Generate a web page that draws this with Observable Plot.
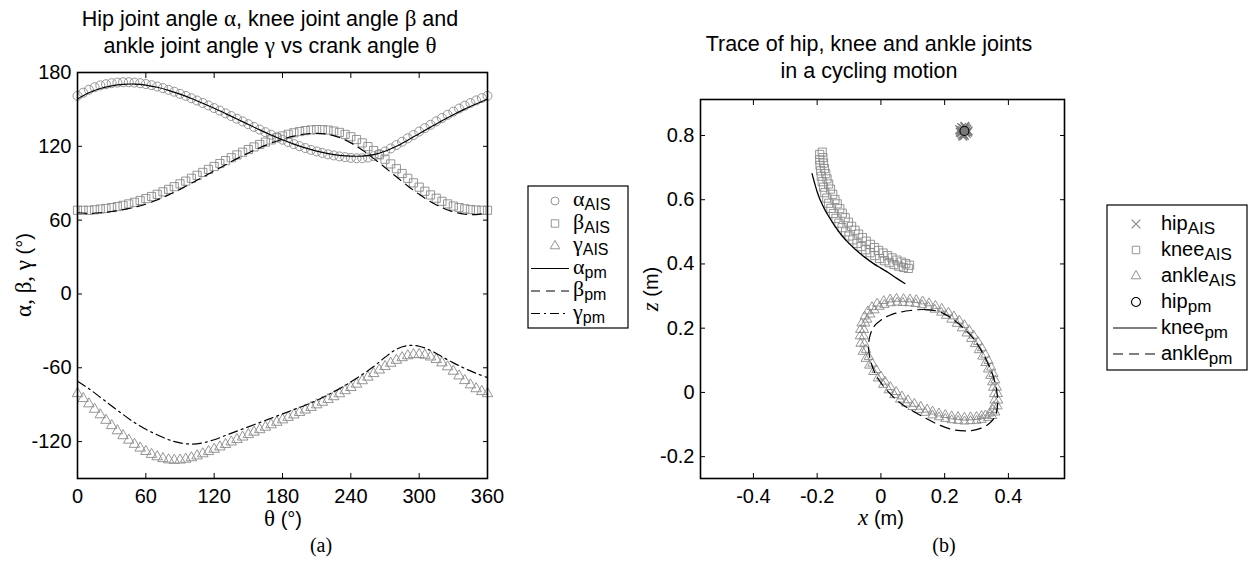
<!DOCTYPE html>
<html><head><meta charset="utf-8">
<script src="https://cdn.jsdelivr.net/npm/d3@7"></script>
<script src="https://cdn.jsdelivr.net/npm/@observablehq/plot@0.6"></script>
<style>
html,body{margin:0;padding:0;background:#fff;}
#wrap{position:relative;width:1259px;height:563px;overflow:hidden;background:#fff;}
#wrap > svg{position:absolute;top:0;overflow:visible;}
text{white-space:pre;}
</style></head><body><div id="wrap"></div>
<script>
// ---------- Panel (a): joint angles vs crank angle ----------
const theta5 = [0,5,10,15,20,25,30,35,40,45,50,55,60,65,70,75,80,85,90,95,100,105,110,115,120,125,130,135,140,145,150,155,160,165,170,175,180,185,190,195,200,205,210,215,220,225,230,235,240,245,250,255,260,265,270,275,280,285,290,295,300,305,310,315,320,325,330,335,340,345,350,355,360];
const alphaAIS = [161,163.6,166,168,169.5,170.5,171.3,171.8,172.1,172.1,171.8,171.3,170.6,169.7,168.6,167.3,165.9,164.4,162.7,161,159.1,157.2,155.2,153.2,151.1,149,146.8,144.6,142.4,140.2,138,135.8,133.6,131.5,129.4,127.4,125.4,123.5,121.8,120.1,118.6,117.1,115.8,114.6,113.5,112.6,111.8,111.2,110.6,110.3,110.3,110.9,112,113.7,115.8,118.3,121,123.7,126.5,129.2,132,134.8,137.5,140.3,143,145.6,148.2,150.7,153,155.2,157.3,159.2,161];
const betaAIS = [68,68,68,68.4,69,69.5,70.2,71,72,73.2,74.5,76,77.5,79.2,81,83,85,87.2,89.5,91.7,94,96.4,98.8,101.2,103.6,106,108.4,110.7,113,115.2,117.4,119.5,121.5,123.4,125.2,126.9,128.4,129.8,131,132,132.8,133.3,133.6,133.6,133.2,132.4,131.3,129.7,127.8,125.5,122.8,119.8,116.6,113.1,109.5,105.7,101.8,97.9,94,90.3,86.8,83.5,80.5,77.8,75.3,73.2,71.5,70.2,69.2,68.6,68.2,68,68];
const gammaAIS = [-81,-85,-89.3,-93.7,-98.2,-102.7,-107,-111.2,-115.2,-118.8,-122.2,-125.3,-128,-130.4,-132.3,-133.8,-134.8,-135.2,-135,-134.3,-133.1,-131.6,-129.9,-128.1,-126.2,-124.3,-122.3,-120.3,-118.3,-116.3,-114.3,-112.3,-110.3,-108.3,-106.3,-104.3,-102.3,-100.3,-98.3,-96.3,-94.3,-92.2,-90.1,-88,-85.8,-83.5,-81.1,-78.6,-76,-73.3,-70.5,-67.6,-64.7,-61.8,-59,-56.3,-53.9,-51.8,-50.2,-49.3,-49.2,-49.8,-51.2,-53.3,-56,-59.2,-62.8,-66.6,-70.4,-73.9,-77,-79.3,-81];
const theta10 = [0,10,20,30,40,50,60,70,80,90,100,110,120,130,140,150,160,170,180,190,200,210,220,230,240,250,260,270,280,290,300,310,320,330,340,350,360];
const alphaPm = [158.5,163.5,167,169.2,170.4,170.6,169.8,168,165.5,162.4,158.9,155,150.9,146.6,142.2,137.8,133.4,129.2,125.3,121.8,118.7,116.1,114.1,112.7,112,112.1,113.3,116,120,125,130.3,135.6,140.8,145.7,150.2,154.4,158.5];
const betaPm = [66,65.5,66,67,68.5,70.5,73,76.5,80.5,85,90,95,100,105,110,114.6,118.8,122.6,125.8,128.3,130,130.6,129.8,127.2,122.8,117,110.2,102.8,95.2,87.8,81,75,70.2,66.8,64.8,64.5,66];
const gammaPm = [-71,-77,-84,-91,-98,-104.5,-110,-114.5,-118.5,-121,-122,-121,-118.5,-115,-111.5,-108,-104.5,-101,-97.5,-94,-90.5,-86.5,-82,-77,-71.5,-65.5,-59,-51.5,-45,-42,-42.5,-46,-51,-56,-60.5,-64.5,-68];
const xTicksA = [0,60,120,180,240,300,360];
const yTicksA = [-120,-60,0,60,120,180];

// ---------- Panel (b): joint traces (m) ----------
const hipAisX = [0.252,0.258,0.264,0.270,0.268,0.262,0.255,0.249,0.247,0.256,0.266,0.272,0.260,0.253,0.267,0.259,0.250,0.263,0.274,0.257];
const hipAisZ = [0.808,0.822,0.826,0.818,0.806,0.800,0.802,0.810,0.818,0.815,0.812,0.810,0.820,0.825,0.822,0.805,0.816,0.829,0.814,0.798];
const hipPmX = [0.262];
const hipPmZ = [0.814];
const kneeAisX = [-0.184,-0.182,-0.180,-0.177,-0.173,-0.169,-0.164,-0.158,-0.151,-0.144,-0.137,-0.129,-0.121,-0.112,-0.102,-0.092,-0.081,-0.070,-0.058,-0.046,-0.033,-0.020,-0.007,0.007,0.021,0.035,0.050,0.064,0.078,0.090,
  0.086,0.071,0.056,0.041,0.026,0.011,-0.004,-0.019,-0.034,-0.048,-0.062,-0.075,-0.088,-0.100,-0.111,-0.122,-0.132,-0.141,-0.149,-0.157,-0.164,-0.170,-0.176,-0.180,-0.184,-0.187,-0.189,-0.191,-0.192,-0.192];
const kneeAisZ = [0.748,0.731,0.714,0.697,0.681,0.665,0.649,0.633,0.617,0.601,0.587,0.572,0.558,0.544,0.530,0.517,0.505,0.493,0.482,0.471,0.461,0.451,0.442,0.434,0.426,0.419,0.412,0.406,0.401,0.396,
  0.386,0.389,0.393,0.398,0.404,0.410,0.417,0.426,0.435,0.444,0.454,0.464,0.475,0.487,0.500,0.513,0.527,0.542,0.557,0.573,0.589,0.605,0.622,0.639,0.656,0.673,0.690,0.707,0.724,0.741];
const ankleAisX = [0.071,0.091,0.111,0.131,0.151,0.171,0.191,0.212,0.229,0.246,0.262,0.277,0.291,0.305,0.317,0.328,0.338,0.346,0.353,0.359,0.364,0.367,0.368,0.366,0.359,0.349,0.336,0.316,0.300,0.281,0.262,0.242,0.222,0.202,0.182,0.162,0.139,0.119,0.099,0.079,0.060,0.042,0.024,0.007,-0.010,-0.024,-0.037,-0.048,-0.057,-0.064,-0.066,-0.065,-0.061,-0.051,-0.041,-0.028,-0.012,0.009,0.029,0.049,
  0.069,0.089,0.109,0.129,0.149,0.169,0.189,0.204,0.221,0.238,0.254,0.269,0.283,0.295,0.307,0.318,0.328,0.336,0.343,0.349,0.352,0.355,0.356,0.354,0.351,0.341,0.328,0.316,0.300,0.281,0.262,0.242,0.222,0.202,0.182,0.162,0.145,0.125,0.105,0.085,0.066,0.048,0.030,0.013,0.000,-0.014,-0.027,-0.038,-0.047,-0.052,-0.054,-0.053,-0.049,-0.043,-0.033,-0.020,-0.004,0.011,0.031,0.051];
const ankleAisZ = [0.291,0.290,0.288,0.284,0.278,0.270,0.261,0.249,0.237,0.224,0.210,0.194,0.177,0.157,0.138,0.118,0.098,0.078,0.058,0.038,0.015,-0.005,-0.025,-0.043,-0.062,-0.073,-0.079,-0.085,-0.088,-0.089,-0.090,-0.088,-0.086,-0.082,-0.077,-0.071,-0.063,-0.054,-0.045,-0.034,-0.022,-0.008,0.007,0.024,0.044,0.064,0.084,0.105,0.127,0.152,0.175,0.195,0.215,0.237,0.253,0.266,0.277,0.285,0.290,0.292,
  0.279,0.278,0.276,0.272,0.266,0.258,0.249,0.239,0.227,0.214,0.200,0.184,0.167,0.151,0.132,0.112,0.092,0.072,0.052,0.032,0.015,-0.005,-0.025,-0.043,-0.054,-0.065,-0.071,-0.073,-0.076,-0.077,-0.078,-0.076,-0.074,-0.070,-0.065,-0.059,-0.053,-0.044,-0.035,-0.024,-0.012,0.002,0.017,0.034,0.050,0.070,0.090,0.111,0.133,0.152,0.175,0.195,0.215,0.227,0.243,0.256,0.267,0.273,0.278,0.280];
const kneePmX = [-0.216,-0.209,-0.200,-0.190,-0.178,-0.165,-0.147,-0.127,-0.104,-0.080,-0.052,-0.023,0.000,0.025,0.050,0.075];
const kneePmZ = [0.681,0.655,0.625,0.598,0.573,0.550,0.522,0.494,0.468,0.445,0.422,0.401,0.387,0.372,0.355,0.339];
const anklePmX = [0.093,0.140,0.187,0.230,0.265,0.290,0.315,0.337,0.354,0.364,0.366,0.358,0.336,0.300,0.262,0.222,0.180,0.140,0.100,0.060,0.022,-0.012,-0.030,-0.038,-0.036,-0.022,0.004,0.035,0.061];
const anklePmZ = [0.255,0.258,0.250,0.225,0.195,0.168,0.130,0.088,0.045,0.000,-0.040,-0.075,-0.100,-0.116,-0.120,-0.115,-0.100,-0.080,-0.058,-0.032,0.003,0.048,0.090,0.130,0.170,0.205,0.228,0.243,0.250];
const xTicksB = [-0.4,-0.2,0,0.2,0.4];
const yTicksB = [-0.2,0,0.2,0.4,0.6,0.8];

const SANS = "'Liberation Sans', Arial, Helvetica, sans-serif";
const SERIF = "'Liberation Serif', 'Times New Roman', serif";
const GRAY = "#8a8a8a";
const wrap = document.getElementById("wrap");

function axes(xt, yt) {
  return [
    Plot.axisX(xt, {anchor: "bottom", tickSize: -5, tickPadding: 15, tickFormat: d => String(d), label: null}),
    Plot.axisX(xt, {anchor: "top", tickSize: -5, tickFormat: () => "", label: null}),
    Plot.axisY(yt, {anchor: "left", tickSize: -5, tickPadding: 11, tickFormat: d => String(d), label: null}),
    Plot.axisY(yt, {anchor: "right", tickSize: -5, tickFormat: () => "", label: null}),
    Plot.frame({stroke: "#000", strokeWidth: 1.6})
  ];
}
const plotStyle = {fontFamily: SANS, fontSize: "20px", color: "#000", background: "transparent", overflow: "visible"};

const chartA = Plot.plot({
  width: 500, height: 530,
  marginLeft: 77, marginRight: 13, marginTop: 72, marginBottom: 52,
  x: {domain: [0, 360]},
  y: {domain: [-150, 180]},
  style: plotStyle,
  marks: [
    Plot.dot(alphaAIS, {x: (d, i) => theta5[i], y: d => d, symbol: "circle", r: 4.5, stroke: GRAY, strokeWidth: 0.9, fill: "none"}),
    Plot.dot(betaAIS, {x: (d, i) => theta5[i], y: d => d, symbol: "square", r: 4.6, stroke: GRAY, strokeWidth: 0.9, fill: "none"}),
    Plot.dot(gammaAIS, {x: (d, i) => theta5[i], y: d => d, symbol: "triangle", r: 3.9, stroke: GRAY, strokeWidth: 0.9, fill: "none"}),
    Plot.line(alphaPm, {x: (d, i) => theta10[i], y: d => d, curve: "catmull-rom", stroke: "#000", strokeWidth: 1.2}),
    Plot.line(betaPm, {x: (d, i) => theta10[i], y: d => d, curve: "catmull-rom", stroke: "#000", strokeWidth: 1.2, strokeDasharray: "9,6"}),
    Plot.line(gammaPm, {x: (d, i) => theta10[i], y: d => d, curve: "catmull-rom", stroke: "#000", strokeWidth: 1.2, strokeDasharray: "9,4,2,4"}),
    ...axes(xTicksA, yTicksA)
  ]
});
chartA.style.left = "0px";
wrap.appendChild(chartA);

const chartB = Plot.plot({
  width: 450, height: 530,
  marginLeft: 70, marginRight: 16, marginTop: 99, marginBottom: 52,
  x: {domain: [-0.566, 0.576]},
  y: {domain: [-0.268, 0.912]},
  style: plotStyle,
  marks: [
    Plot.dot(hipAisX, {x: d => d, y: (d, i) => hipAisZ[i], symbol: "times", r: 4, stroke: "#7a7a7a", strokeWidth: 1.3}),
    Plot.dot(kneeAisX, {x: d => d, y: (d, i) => kneeAisZ[i], symbol: "square", r: 4.6, stroke: GRAY, strokeWidth: 0.9, fill: "none"}),
    Plot.dot(ankleAisX, {x: d => d, y: (d, i) => ankleAisZ[i], symbol: "triangle", r: 3.4, stroke: GRAY, strokeWidth: 0.9, fill: "none"}),
    Plot.dot(hipPmX, {x: d => d, y: (d, i) => hipPmZ[i], symbol: "circle", r: 4.5, stroke: "#000", strokeWidth: 1.1, fill: "none"}),
    Plot.line(kneePmX, {x: d => d, y: (d, i) => kneePmZ[i], curve: "catmull-rom", stroke: "#000", strokeWidth: 1.3}),
    Plot.line(anklePmX, {x: d => d, y: (d, i) => anklePmZ[i], curve: "catmull-rom-closed", stroke: "#000", strokeWidth: 1.2, strokeDasharray: "10,6"}),
    ...axes(xTicksB, yTicksB)
  ]
});
chartB.style.left = "630px";
wrap.appendChild(chartB);

// ---------- Text overlay: titles, axis labels, captions, legends ----------
const ov = d3.select(wrap).append("svg").attr("width", 1259).attr("height", 563).style("left", "0px");

function rich(x, y, parts, anchor = "start", rotate = 0) {
  const t = ov.append("text").attr("x", x).attr("y", y).attr("text-anchor", anchor).attr("fill", "#000");
  if (rotate) t.attr("transform", `rotate(${rotate},${x},${y})`);
  for (const p of parts) {
    const s = t.append("tspan").text(p.t).attr("font-family", p.serif ? SERIF : SANS).attr("font-size", p.size);
    if (p.italic) s.attr("font-style", "italic");
    if (p.dy) s.attr("dy", p.dy);
  }
  return t;
}
const S = 21.5, G = 23;
rich(270, 26, [{t: "Hip joint angle ", size: S}, {t: "α", serif: 1, size: G}, {t: ", knee joint angle ", size: S}, {t: "β", serif: 1, size: G}, {t: " and", size: S}], "middle");
rich(270, 53, [{t: "ankle joint angle ", size: S}, {t: "γ", serif: 1, size: G}, {t: " vs crank angle ", size: S}, {t: "θ", serif: 1, size: G}], "middle");
rich(869, 51, [{t: "Trace of hip, knee and ankle joints", size: S}], "middle");
rich(869, 78, [{t: "in a cycling motion", size: S}], "middle");

rich(283, 526, [{t: "θ", serif: 1, size: 23}, {t: " (°)", size: 20}], "middle");
rich(881, 525, [{t: "x", serif: 1, italic: 1, size: 23}, {t: " (m)", size: 20}], "middle");
rich(31, 275, [{t: "α, β, γ", serif: 1, size: 23}, {t: " (°)", size: 20}], "middle", -90);
rich(658, 289, [{t: "z", serif: 1, italic: 1, size: 23}, {t: " (m)", size: 20}], "middle", -90);
rich(321, 552, [{t: "(a)", serif: 1, size: 20}], "middle");
rich(944, 552, [{t: "(b)", serif: 1, size: 20}], "middle");

function symbolPath(type, r) {
  const map = {circle: d3.symbolCircle, square: d3.symbolSquare, triangle: d3.symbolTriangle, times: d3.symbolTimes};
  return d3.symbol().type(map[type]).size(Math.PI * r * r)();
}
function legend(box, entries) {
  ov.append("rect").attr("x", box.x).attr("y", box.y).attr("width", box.w).attr("height", box.h)
    .attr("fill", "#fff").attr("stroke", "#000").attr("stroke-width", 1.2);
  entries.forEach((e, i) => {
    const y = box.y0 + i * box.dy;
    if (e.symbol) {
      ov.append("path").attr("d", symbolPath(e.symbol, e.r)).attr("transform", `translate(${box.mx},${y})`)
        .attr("fill", "none").attr("stroke", e.color).attr("stroke-width", e.sw || 0.9);
    } else {
      ov.append("line").attr("x1", box.l1).attr("x2", box.l2).attr("y1", y).attr("y2", y)
        .attr("stroke", "#000").attr("stroke-width", 1.2).attr("stroke-dasharray", e.dash || null);
    }
    rich(box.tx, y + box.base, e.label);
  });
}
const sub = (t, s = 16) => ({t, size: s, dy: 4});
legend({x: 528, y: 186, w: 100, h: 142, y0: 201, dy: 22.5, base: 5, mx: 555, l1: 531, l2: 569, tx: 573}, [
  {symbol: "circle", r: 4, color: GRAY, label: [{t: "α", serif: 1, size: 22}, sub("AIS")]},
  {symbol: "square", r: 4.2, color: GRAY, label: [{t: "β", serif: 1, size: 22}, sub("AIS")]},
  {symbol: "triangle", r: 3.6, color: GRAY, label: [{t: "γ", serif: 1, size: 22}, sub("AIS")]},
  {dash: null, label: [{t: "α", serif: 1, size: 22}, sub("pm")]},
  {dash: "9,6", label: [{t: "β", serif: 1, size: 22}, sub("pm")]},
  {dash: "9,4,2,4", label: [{t: "γ", serif: 1, size: 22}, sub("pm")]}
]);
legend({x: 1107, y: 205, w: 140, h: 165, y0: 224, dy: 26, base: 6, mx: 1136, l1: 1113, l2: 1157, tx: 1161}, [
  {symbol: "times", r: 4, color: GRAY, sw: 1.2, label: [{t: "hip", size: 20}, sub("AIS", 17)]},
  {symbol: "square", r: 4.2, color: GRAY, label: [{t: "knee", size: 20}, sub("AIS", 17)]},
  {symbol: "triangle", r: 3.6, color: GRAY, label: [{t: "ankle", size: 20}, sub("AIS", 17)]},
  {symbol: "circle", r: 4.5, color: "#000", sw: 1.1, label: [{t: "hip", size: 20}, sub("pm", 17)]},
  {dash: null, label: [{t: "knee", size: 20}, sub("pm", 17)]},
  {dash: "10,6", label: [{t: "ankle", size: 20}, sub("pm", 17)]}
]);
</script></body></html>
